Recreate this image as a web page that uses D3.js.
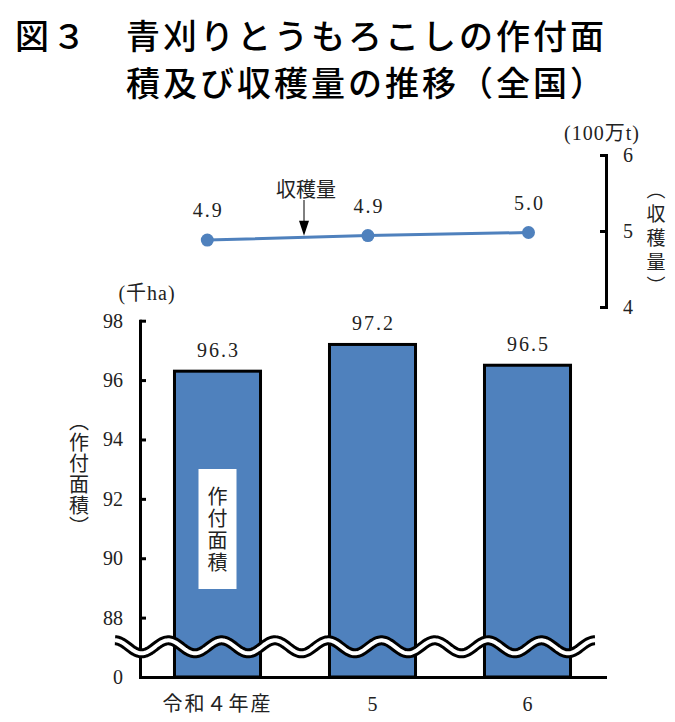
<!DOCTYPE html>
<html>
<head>
<meta charset="utf-8">
<script src="https://cdn.jsdelivr.net/npm/d3@7"></script>
<style>
body { margin: 0; background: #fff; }
</style>
</head>
<body>
<div id="chartContainer"></div>
<script>
// chart data
var categories = ["令和４年産", "5", "6"];
var areaValues = [96.3, 97.2, 96.5];        // 千ha
var harvestValues = [4.88, 4.94, 4.98];     // 100万t
var areaTicks = [88, 90, 92, 94, 96, 98];
var harvestTicks = [4, 5, 6];
var areaBreakFloor = 86;                    // sits under the wave break, shown as "0"
var areaZeroLabel = "0";

var serif = "'Liberation Serif', 'Times New Roman', 'DejaVu Serif', serif, 'Noto Sans CJK JP'";
var gothic = "'Noto Sans CJK JP', sans-serif";
var blue = "#4f81bd";
var ink = "#222";

const w = 675, h = 722;

const svg = d3.select("#chartContainer")
    .append("svg")
    .attr("width", w)
    .attr("height", h)
    .style("background", "#fff");

function drawTitle(svg)
{
    var lines = ["図３　青刈りとうもろこしの作付面", "積及び収穫量の推移（全国）"];
    svg.selectAll(".title")
        .data(lines)
        .join("text")
        .attr("class", "title")
        .attr("x", (d, i) => i == 0 ? 15 : 126)
        .attr("y", (d, i) => 34 + i * 47)
        .attr("dominant-baseline", "central")
        .attr("font-family", gothic)
        .attr("font-size", 34)
        .attr("font-weight", 500)
        .attr("letter-spacing", 3)
        .attr("fill", "#000")
        .text(d => d);
}

function styleAxis(g)
{
    g.attr("font-family", serif)
        .attr("font-size", 20);
    g.selectAll("text").attr("fill", ink);
    g.selectAll("line").attr("stroke", "#000").attr("stroke-width", 3);
    g.select(".domain").attr("stroke", "#000").attr("stroke-width", 3)
        .attr("stroke-linecap", "square");
}

function drawBars(svg)
{
    // x scale for the bars
    const xBand = d3.scaleBand()
        .domain(categories)
        .range([140, 605])
        .paddingInner(0.445)
        .paddingOuter(0.2225);

    // y scale, broken under 88
    const yArea = d3.scaleLinear()
        .domain([areaBreakFloor, d3.max(areaTicks)])
        .range([677, 320.7]);

    svg.append("g")
        .selectAll("rect")
        .data(areaValues)
        .join("rect")
        .attr("x", (d, i) => xBand(categories[i]))
        .attr("y", d => yArea(d))
        .attr("width", xBand.bandwidth())
        .attr("height", d => yArea(areaBreakFloor) - yArea(d))
        .attr("fill", blue)
        .attr("stroke", "#000")
        .attr("stroke-width", 3);

    // value labels
    svg.append("g")
        .selectAll("text")
        .data(areaValues)
        .join("text")
        .attr("x", (d, i) => xBand(categories[i]) + xBand.bandwidth() / 2 + 1)
        .attr("y", d => yArea(d) - 21)
        .attr("text-anchor", "middle")
        .attr("dominant-baseline", "central")
        .attr("font-family", serif)
        .attr("font-size", 20)
        .attr("letter-spacing", 2)
        .attr("fill", ink)
        .text(d => d3.format(".1f")(d));

    // label box inside first bar
    var cx = xBand(categories[0]) + xBand.bandwidth() / 2;
    svg.append("rect")
        .attr("x", cx - 19)
        .attr("y", 469)
        .attr("width", 38)
        .attr("height", 120)
        .attr("fill", "#fff");
    svg.append("text")
        .attr("x", cx)
        .attr("y", 530)
        .attr("text-anchor", "middle")
        .style("writing-mode", "vertical-rl")
        .attr("font-family", gothic)
        .attr("font-size", 20)
        .attr("letter-spacing", 2)
        .attr("fill", ink)
        .text("作付面積");

    // left axis
    svg.append("g")
        .attr("transform", "translate(140,0)")
        .call(d3.axisLeft(yArea)
            .tickValues([areaBreakFloor].concat(areaTicks))
            .tickSize(-6)
            .tickSizeOuter(0)
            .tickPadding(17)
            .tickFormat(d => d == areaBreakFloor ? areaZeroLabel : d))
        .call(styleAxis);

    // bottom axis
    svg.append("g")
        .attr("transform", "translate(0,677)")
        .call(d3.axisBottom(xBand).tickSize(0).tickSizeOuter(0).tickPadding(20))
        .call(styleAxis)
        .selectAll("text")
        .attr("letter-spacing", d => d == categories[0] ? 2 : 0);

    // wave break across the plot
    var breakY = yArea(87) - 0.5;
    var wave = d3.range(115, 595.5, 1).map(x => [x, breakY - 6.5 * Math.cos(2 * Math.PI * (x - 115) / 53.3)]);
    var waveLine = d3.line();
    svg.append("path")
        .attr("d", waveLine(wave))
        .attr("fill", "none")
        .attr("stroke", "#000")
        .attr("stroke-width", 10);
    svg.append("path")
        .attr("d", waveLine(wave))
        .attr("fill", "none")
        .attr("stroke", "#fff")
        .attr("stroke-width", 4);

    // unit and axis title
    svg.append("text")
        .attr("x", 147)
        .attr("y", 293)
        .attr("text-anchor", "middle")
        .attr("dominant-baseline", "central")
        .attr("font-family", serif)
        .attr("font-size", 20)
        .attr("letter-spacing", 1)
        .attr("fill", ink)
        .text("(千ha)");
    svg.append("text")
        .attr("x", 79)
        .attr("y", 474)
        .attr("text-anchor", "middle")
        .style("writing-mode", "vertical-rl")
        .attr("font-family", gothic)
        .attr("font-size", 20)
        .attr("letter-spacing", 1)
        .attr("fill", ink)
        .text("（作付面積）");
}

function drawLine(svg)
{
    const xPoint = d3.scalePoint()
        .domain(categories)
        .range([207.3, 528.5]);

    const yHarvest = d3.scaleLinear()
        .domain([d3.min(harvestTicks), d3.max(harvestTicks)])
        .range([307, 155]);

    var pts = harvestValues.map((v, i) => [xPoint(categories[i]), yHarvest(v)]);

    svg.append("path")
        .attr("d", d3.line()(pts))
        .attr("fill", "none")
        .attr("stroke", blue)
        .attr("stroke-width", 3);

    svg.append("g")
        .selectAll("circle")
        .data(pts)
        .join("circle")
        .attr("cx", d => d[0])
        .attr("cy", d => d[1])
        .attr("r", 6.5)
        .attr("fill", blue);

    svg.append("g")
        .selectAll("text")
        .data(harvestValues)
        .join("text")
        .attr("x", (d, i) => xPoint(categories[i]) + 1)
        .attr("y", d => yHarvest(d) - 30)
        .attr("text-anchor", "middle")
        .attr("dominant-baseline", "central")
        .attr("font-family", serif)
        .attr("font-size", 20)
        .attr("letter-spacing", 2)
        .attr("fill", ink)
        .text(d => d3.format(".1f")(d));

    // annotation arrow pointing at the line
    var ax = 304;
    var tipY = pts[0][1] + (pts[1][1] - pts[0][1]) * (ax - pts[0][0]) / (pts[1][0] - pts[0][0]) - 1.5;
    svg.append("text")
        .attr("x", ax + 2)
        .attr("y", 188)
        .attr("text-anchor", "middle")
        .attr("dominant-baseline", "central")
        .attr("font-family", gothic)
        .attr("font-size", 20)
        .attr("fill", ink)
        .text("収穫量");
    svg.append("line")
        .attr("x1", ax).attr("x2", ax)
        .attr("y1", 200).attr("y2", tipY - 12)
        .attr("stroke", "#000")
        .attr("stroke-width", 1);
    svg.append("path")
        .attr("d", `M${ax - 5},${tipY - 15}L${ax + 5},${tipY - 15}L${ax},${tipY}Z`)
        .attr("fill", "#000");

    // right axis
    svg.append("g")
        .attr("transform", "translate(606,0)")
        .call(d3.axisRight(yHarvest)
            .tickValues(harvestTicks)
            .tickFormat(d3.format("d"))
            .tickSize(-6)
            .tickSizeOuter(0)
            .tickPadding(17))
        .call(styleAxis);

    svg.append("text")
        .attr("x", 602)
        .attr("y", 133)
        .attr("text-anchor", "middle")
        .attr("dominant-baseline", "central")
        .attr("font-family", serif)
        .attr("font-size", 20)
        .attr("letter-spacing", 1)
        .attr("fill", ink)
        .text("(100万t)");
    svg.append("text")
        .attr("x", 656)
        .attr("y", 240)
        .attr("text-anchor", "middle")
        .style("writing-mode", "vertical-rl")
        .attr("font-family", gothic)
        .attr("font-size", 19)
        .attr("letter-spacing", 5)
        .attr("fill", ink)
        .text("（収穫量）");
}

drawTitle(svg);
drawBars(svg);
drawLine(svg);
</script>
</body>
</html>
